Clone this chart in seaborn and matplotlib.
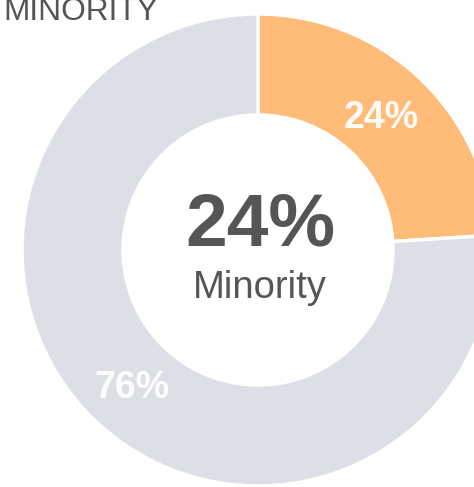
import matplotlib
matplotlib.use("Agg")
import matplotlib.pyplot as plt
import seaborn as sns

# data
categories = ["Minority", "Other"]
shares = [24, 76]
slice_colors = ["#ffbb78", "#dddfe6"]
title_text = "MINORITY"

sns.set_style("white")
plt.rcParams["font.family"] = ["Liberation Sans", "DejaVu Sans"]

fig = plt.figure(figsize=(4.74, 4.87), dpi=100)
ax = fig.add_axes([0, 0, 1, 1])

# donut, drawn in pixel-like coordinates
wedges, texts = ax.pie(
    shares,
    colors=sns.color_palette(slice_colors),
    startangle=90,
    counterclock=False,
    center=(258, 237),
    radius=236,
    wedgeprops=dict(width=101, edgecolor="white", linewidth=2.5),
)

# percentage labels on the ring
label_pos = [(381, 369), (132, 99)]
for (x, y), v in zip(label_pos, shares):
    ax.text(x, y, f"{v}%", ha="center", va="center", color="white",
            fontsize=27, fontweight="bold", alpha=0.95)

# centre text
ax.text(260, 242, f"{shares[0]}%", ha="center", va="baseline",
        color="#555555", fontsize=54, fontweight="bold")
ax.text(260, 189, categories[0], ha="center", va="baseline",
        color="#555555", fontsize=27.5)

# title (cut off at top, as in the original)
ax.text(3, 467, title_text, ha="left", va="baseline",
        color="#555555", fontsize=22.8)

ax.set_xlim(0, 474)
ax.set_ylim(0, 487)
ax.set_aspect("equal")
ax.axis("off")

fig.savefig("out.png", dpi=100)
